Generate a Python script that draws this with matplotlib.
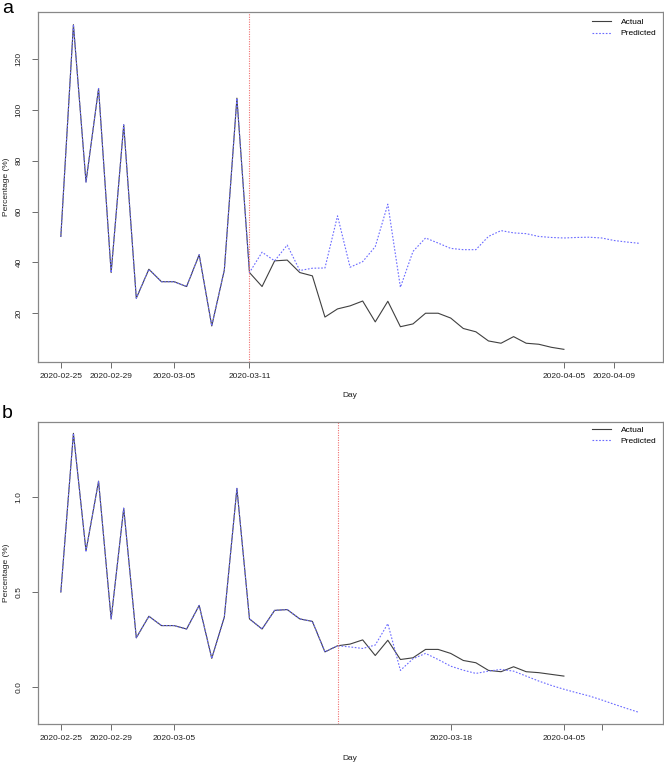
import numpy as np
import matplotlib
matplotlib.use("Agg")
import matplotlib.pyplot as plt

plt.rcParams['font.family'] = ['Liberation Sans', 'DejaVu Sans']

# --- data (day index 0 = 2020-02-25) ---
actual_a = [50.2, 133.5, 71.6, 108.4, 36.0, 94.1, 25.9, 37.3, 32.4, 32.4,
            30.5, 43.0, 15.0, 37.0, 104.6, 36.0, 30.5, 40.6, 40.9, 36.0,
            34.7, 18.5, 21.7, 22.9, 24.8, 16.6, 24.7, 14.7, 15.8, 20.0,
            20.0, 18.1, 14.0, 12.7, 9.1, 8.2, 10.8, 8.2, 7.8, 6.6, 5.8]
predicted_a = actual_a[:16] + [44.0, 40.6, 46.8, 36.8, 37.7, 37.8, 58.3, 38.1,
                               40.3, 46.2, 62.9, 30.2, 44.3, 49.6, 47.6, 45.5,
                               45.0, 45.0, 50.2, 52.5, 51.6, 51.3, 50.2, 49.8,
                               49.6, 49.8, 49.9, 49.6, 48.6, 48.0, 47.5]

actual_b = [0.500, 1.333, 0.716, 1.082, 0.359, 0.940, 0.260, 0.373, 0.324, 0.324,
            0.306, 0.430, 0.152, 0.369, 1.044, 0.359, 0.306, 0.404, 0.408, 0.359,
            0.346, 0.186, 0.218, 0.227, 0.249, 0.167, 0.247, 0.146, 0.155, 0.199,
            0.199, 0.178, 0.141, 0.129, 0.089, 0.082, 0.108, 0.082, 0.077, 0.068,
            0.059]
predicted_b = actual_b[:23] + [0.212, 0.204, 0.222, 0.334, 0.089, 0.150, 0.178,
                               0.146, 0.111, 0.090, 0.073, 0.085, 0.094, 0.085,
                               0.059, 0.033, 0.010, -0.010, -0.028, -0.045,
                               -0.066, -0.089, -0.111, -0.132]

ticks_a = [0, 4, 9, 15, 40, 44]
labels_a = ['2020-02-25', '2020-02-29', '2020-03-05', '2020-03-11',
            '2020-04-05', '2020-04-09']
ticks_b = [0, 4, 9, 31, 40, 43]
labels_b = ['2020-02-25', '2020-02-29', '2020-03-05', '2020-03-18',
            '2020-04-05', '']
split_a = 15
split_b = 22

W, H = 664, 765
fig = plt.figure(figsize=(W / 100, H / 100), dpi=100)


def px_axes(left, top, right, bottom):
    return fig.add_axes([left / W, 1 - bottom / H, (right - left) / W, (bottom - top) / H])


def draw_panel(ax, actual, predicted, split, ticks, labels, yticks, yfmt,
               ylim, xlab_y, leg_y, letter, letter_y):
    xa = np.arange(len(actual))
    xp = np.arange(len(predicted))
    ax.plot(xa, actual, color='#404040', lw=0.8, label='Actual')
    ax.plot(xp, predicted, color='#6a6aff', lw=0.8, dashes=(1.5, 1.5), label='Predicted')
    ax.axvline(split, color='#f07070', lw=0.8, dashes=(1, 1.2))

    ax.set_xlim(-1.84, 47.84)
    ax.set_ylim(*ylim)
    ax.set_xticks(ticks)
    ax.set_xticklabels(labels)
    ax.set_yticks(yticks)
    ax.set_yticklabels([yfmt.format(v) for v in yticks], rotation=90, va='center')
    ax.tick_params(axis='both', length=4, width=0.6, color='#555555',
                   labelsize=6, labelcolor='#222222')
    ax.tick_params(axis='x', pad=4)
    ax.tick_params(axis='y', pad=7)
    for s in ax.spines.values():
        s.set_color('#888888')
        s.set_linewidth(0.9)

    ax.set_xlabel('Day', fontsize=6, color='#222222')
    ax.xaxis.set_label_coords(0.5, xlab_y)
    ax.set_ylabel('Percentage (%)', fontsize=6, color='#222222')
    ax.yaxis.set_label_coords(-0.045, 0.5)

    ax.legend(loc='upper right', bbox_to_anchor=(0.99, leg_y),
              frameon=False, fontsize=6, handlelength=2.2, handletextpad=1.2,
              borderpad=0, borderaxespad=0, labelspacing=0.45)

    fig.text(2 / W, 1 - letter_y / H, letter, fontsize=14, va='top', ha='left')


ax1 = px_axes(37.7, 11.7, 662.5, 362.3)
draw_panel(ax1, actual_a, predicted_a, split_a, ticks_a, labels_a,
           [20, 40, 60, 80, 100, 120], '{:d}', (0.7, 138.6), -0.085, 0.982, 'a', 0)

ax2 = px_axes(37.7, 421.7, 662.5, 724.3)
draw_panel(ax2, actual_b, predicted_b, split_b, ticks_b, labels_b,
           [0.0, 0.5, 1.0], '{:.1f}', (-0.194, 1.394), -0.101, 0.986, 'b', 405)

fig.savefig('out.png', dpi=100)
